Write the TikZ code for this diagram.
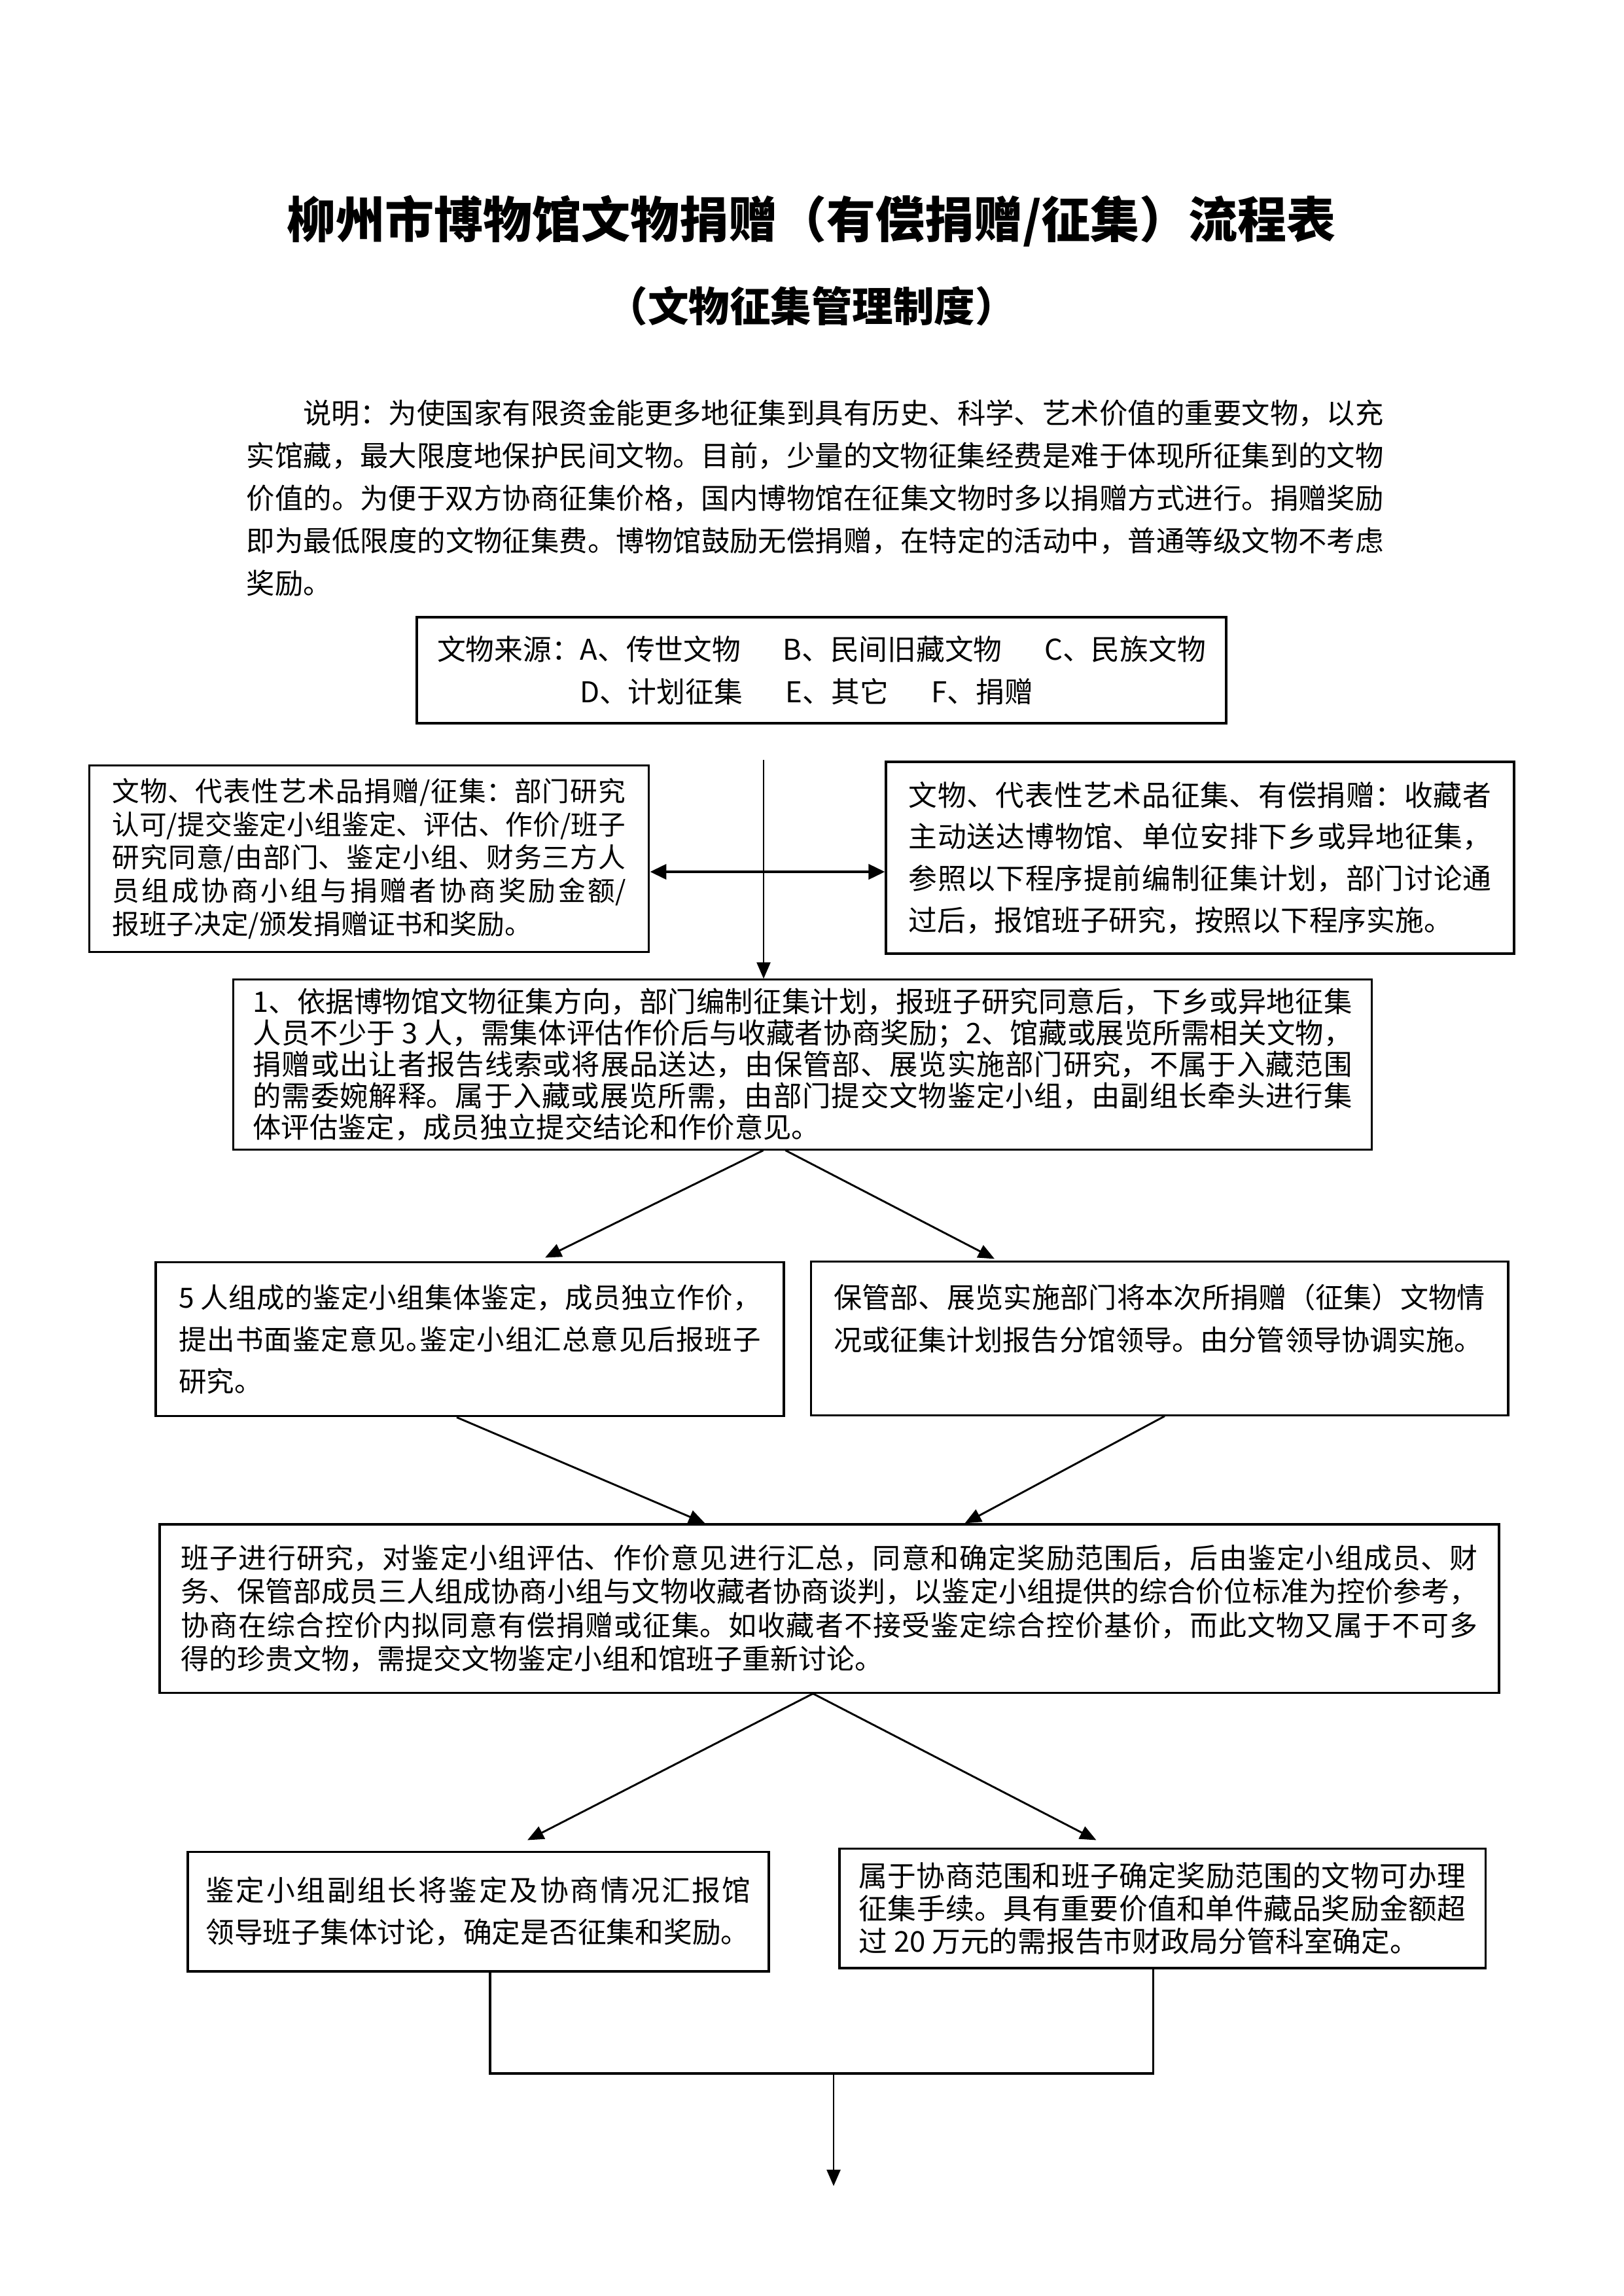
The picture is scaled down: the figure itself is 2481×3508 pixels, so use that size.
\documentclass[tikz,border=0pt]{standalone}
\usepackage{fontspec}
\setmainfont{Noto Sans CJK SC}
\usetikzlibrary{arrows.meta,calc}
\XeTeXlinebreaklocale "zh"
\XeTeXlinebreakskip=0pt plus 1pt minus 0.1pt
\newcommand\hw[1]{\makebox[0.5em][l]{#1}}
\tikzset{
  box/.style={draw, line width=0.75pt, inner sep=0pt, align=justify},
  arr/.style={line width=0.7pt, -{Triangle[length=6pt,width=5pt]}},
  darr/.style={line width=1pt, {Triangle[length=6pt,width=5.5pt]}-{Triangle[length=6pt,width=5.5pt]}},
  ln/.style={line width=0.75pt}
}
\begin{document}
\begin{tikzpicture}[x=0.24pt,y=-0.24pt]
\tolerance=9999 \hbadness=10000
\fill[white] (0,0) rectangle (2481,3508);
\useasboundingbox (0,0) rectangle (2481,3508);

\node[font=\fontsize{18pt}{20pt}\selectfont\bfseries] (title) at (1240,338) {柳州市博物馆文物捐赠（有偿捐赠/征集）流程表};
\node[font=\fontsize{15pt}{17pt}\selectfont\bfseries] (subtitle) at (1240,468) {（文物征集管理制度）};

\node[anchor=north west, inner sep=0pt, text width=417.1pt, align=justify, font=\fontsize{10.4pt}{15.6pt}\selectfont] (desc) at (376,610) {\hspace*{20.8pt}说明：为使国家有限资金能更多地征集到具有历史、科学、艺术价值的重要文物，以充\linebreak 实馆藏，最大限度地保护民间文物。目前，少量的文物征集经费是难于体现所征集到的文物\linebreak 价值的。为便于双方协商征集价格，国内博物馆在征集文物时多以捐赠方式进行。捐赠奖励\linebreak 即为最低限度的文物征集费。博物馆鼓励无偿捐赠，在特定的活动中，普通等级文物不考虑\linebreak 奖励。};

\node[draw, line width=0.75pt, inner sep=0pt, minimum width=296.9pt, minimum height=38.9pt, align=center, font=\fontsize{10.5pt}{15.6pt}\selectfont] (src) at (1255.5,1024) {文物来源：A、传世文物\hspace{15.5pt}B、民间旧藏文物\hspace{15.5pt}C、民族文物\\D、计划征集\hspace{15.8pt}E、其它\hspace{15.8pt}F、捐赠\hspace*{11pt}};

\node[box, minimum width=205.4pt, minimum height=68.6pt, text width=188.4pt, font=\fontsize{10pt}{12.2pt}\selectfont] (lbox) at (564,1312) {文物、代表性艺术品捐赠/征集：部门研究\linebreak 认可/提交鉴定小组鉴定、评估、作价/班子\linebreak 研究同意/由部门、鉴定小组、财务三方人\linebreak 员组成协商小组与捐赠者协商奖励金额/\linebreak 报班子决定/颁发捐赠证书和奖励。};

\node[box, minimum width=230.4pt, minimum height=70.3pt, text width=213.8pt, font=\fontsize{10.5pt}{15.3pt}\selectfont] (rbox) at (1834,1310.5) {文物、代表性艺术品征集、有偿捐赠：收藏者\linebreak 主动送达博物馆、单位安排下乡或异地征集，\linebreak 参照以下程序提前编制征集计划，部门讨论通\linebreak 过后，报馆班子研究，按照以下程序实施。};

\node[box, minimum width=417.8pt, minimum height=62.2pt, text width=403.2pt, font=\fontsize{10.4pt}{11.5pt}\selectfont] (b1) at (1226.5,1626.5) {1、依据博物馆文物征集方向，部门编制征集计划，报班子研究同意后，下乡或异地征集\linebreak 人员不少于 3 人，需集体评估作价后与收藏者协商奖励；2、馆藏或展览所需相关文物，\linebreak 捐赠或出让者报告线索或将展品送达，由保管部、展览实施部门研究，不属于入藏范围\linebreak 的需委婉解释。属于入藏或展览所需，由部门提交文物鉴定小组，由副组长牵头进行集\linebreak 体评估鉴定，成员独立提交结论和作价意见。};

\node[box, minimum width=230.4pt, minimum height=56.6pt, text width=213.4pt, font=\fontsize{10.2pt}{15.4pt}\selectfont] (b2l) at (718,2046) {5 人组成的鉴定小组集体鉴定，成员独立作价，\linebreak 提出书面鉴定意见\hw{。}鉴定小组汇总意见后报班子\linebreak 研究。};

\node[box, minimum width=255.8pt, minimum height=56.2pt, text width=239pt, font=\fontsize{10.35pt}{15.5pt}\selectfont] (b2r) at (1772,2045) {保管部、展览实施部门将本次所捐赠（征集）文物情\linebreak 况或征集计划报告分馆领导。由分管领导协调实施。\\\mbox{}};

\node[box, minimum width=491.3pt, minimum height=61.7pt, text width=475.7pt, font=\fontsize{10.3pt}{12.3pt}\selectfont] (b3) at (1267.5,2457.5) {班子进行研究，对鉴定小组评估、作价意见进行汇总，同意和确定奖励范围后，后由鉴定小组成员、财\linebreak 务、保管部成员三人组成协商小组与文物收藏者协商谈判，以鉴定小组提供的综合价位标准为控价参考，\linebreak 协商在综合控价内拟同意有偿捐赠或征集。如收藏者不接受鉴定综合控价基价，而此文物又属于不可多\linebreak 得的珍贵文物，需提交文物鉴定小组和馆班子重新讨论。};

\node[box, minimum width=213.1pt, minimum height=43.9pt, text width=200pt, font=\fontsize{10.5pt}{15.4pt}\selectfont] (b4l) at (731,2920.5) {鉴定小组副组长将鉴定及协商情况汇报馆\linebreak 领导班子集体讨论，确定是否征集和奖励。};

\node[box, minimum width=236.9pt, minimum height=43.9pt, text width=222.7pt, font=\fontsize{10.5pt}{12pt}\selectfont] (b4r) at (1776.5,2915.5) {属于协商范围和班子确定奖励范围的文物可办理\linebreak 征集手续。具有重要价值和单件藏品奖励金额超\linebreak 过 20 万元的需报告市财政局分管科室确定。};

% connectors
\coordinate (c0) at (1167,1161);
\draw[arr] (c0) -- (c0 |- b1.north);
\coordinate (hy) at (1167,1332);
\draw[darr] (lbox.east |- hy) -- (rbox.west |- hy);

\draw[arr] ($(b1.south)+(-60,0)$) -- ($(b2l.north)+(115,-5)$);
\draw[arr] ($(b1.south)+(-26,0)$) -- ($(b2r.north)+(-252,-3)$);

\draw[arr] ($(b2l.south)+(-20,0)$) -- ($(b3.north)+(-190,0)$);
\draw[arr] ($(b2r.south)+(8,0)$) -- ($(b3.north)+(207,0)$);

\draw[arr] ($(b3.south)+(-25,0)$) -- ($(b4l.north)+(75,-16)$);
\draw[arr] ($(b3.south)+(-25,0)$) -- ($(b4r.north)+(-101,-11)$);

\coordinate (jm) at (1274,3168);
\coordinate (endp) at (1274,3340);
\draw[ln] ($(b4l.south)+(18,0)$) |- (jm) -| ($(b4r.south)+(-14,0)$);
\draw[arr] (jm) -- (endp);
\end{tikzpicture}
\end{document}
